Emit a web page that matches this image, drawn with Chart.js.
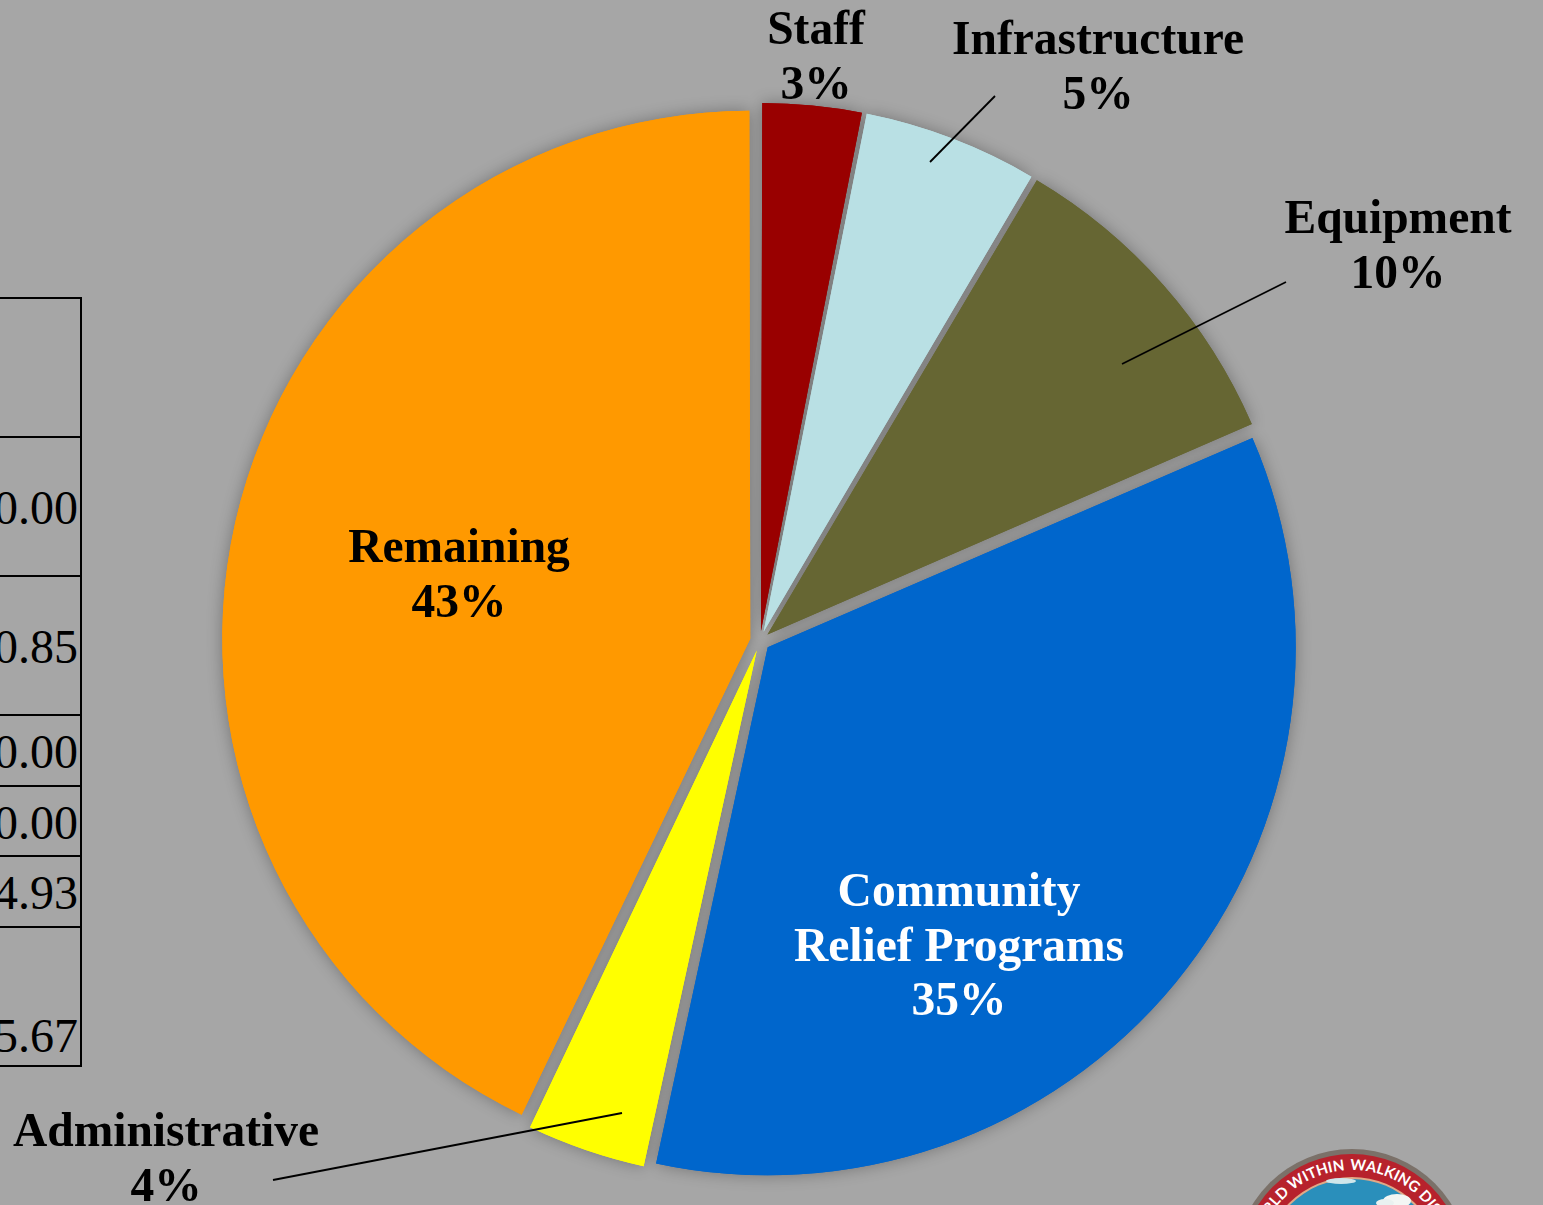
<!DOCTYPE html>
<html>
<head>
<meta charset="utf-8">
<title>Budget breakdown</title>
<script src="https://cdn.jsdelivr.net/npm/chart.js@4"></script>
<style>
    html, body { margin: 0; padding: 0; background: #a6a6a6; }
    #page { position: relative; width: 1543px; height: 1205px; overflow: hidden; background: #a6a6a6; }
    #budgetChart { position: absolute; left: 0; top: 0; }
    #amounts { position: absolute; left: -10px; top: 297px; width: 92px; border-collapse: collapse;
        font: 48px "Liberation Serif", serif; color: #000; table-layout: fixed; }
    #amounts td { border: 2px solid #000; border-left: 0; padding: 0 2px 0 0; text-align: right; line-height: 48px; white-space: nowrap; }
    #seal { position: absolute; left: 1220px; top: 1130px; }
</style>
</head>
<body>
<div id="page">
    <table id="amounts"></table>
    <svg id="seal" width="264" height="75" viewBox="1220 1130 264 75">
        <defs>
            <path id="sealArc" d="M 1256 1266 A 96 96 0 0 1 1448 1266"></path>
        </defs>
        <circle cx="1352" cy="1266" r="117" fill="#7b7169"></circle>
        <circle cx="1352" cy="1266" r="112" fill="#b7222c"></circle>
        <circle cx="1352" cy="1266" r="89" fill="#e0a987"></circle>
        <circle cx="1352" cy="1266" r="87" fill="#2a8fbb"></circle>
        <ellipse cx="1341" cy="1181" rx="15" ry="3" fill="#cfe6ea"></ellipse>
        <ellipse cx="1397" cy="1201" rx="14" ry="7" fill="#f3f6f4"></ellipse>
        <ellipse cx="1385" cy="1203" rx="9" ry="4" fill="#e9f1f0"></ellipse>
        <text font-family="Lato, sans-serif" font-weight="700" font-size="15" fill="#fff">
            <textPath href="#sealArc" startOffset="47.6%" text-anchor="end">A WORLD WITHIN</textPath>
        </text>
        <text font-family="Lato, sans-serif" font-weight="700" font-size="15" fill="#fff">
            <textPath href="#sealArc" startOffset="49.4%">WALKING DISTANCE</textPath>
        </text>
    </svg>
    <canvas id="budgetChart" width="1543" height="1205"></canvas>
</div>
<script>
const categories = ['Staff', 'Infrastructure', 'Equipment', 'Community Relief Programs', 'Administrative', 'Remaining']
const shares = [3.1, 5.4, 10.0, 34.9, 3.7, 42.9]
const sliceColors = ['#990000', '#b9e0e4', '#666633', '#0066cc', '#ffff00', '#ff9900']

// what is left of the table column at the page edge
const amountCells = ['', '0.00', '0.85', '0.00', '0.00', '4.93', '5.67']
const amountRowHeights = [139, 139, 139, 71, 70, 71, 139]

const sliceRadius = 528
const sliceOffset = 40 // the arc element moves by a quarter of this

// text blocks and leader lines, in page pixels
const labelBoxes = [
    { lines: ['Staff'], x: 816, y: 44, color: '#000' },
    { lines: ['Infrastructure'], x: 1098, y: 54, color: '#000', leader: [995, 96, 930, 162] },
    { lines: ['Equipment'], x: 1398, y: 233, color: '#000', leader: [1286, 282, 1122, 364] },
    { lines: ['Community', 'Relief Programs'], x: 959, y: 906, color: '#fff' },
    { lines: ['Administrative'], x: 166, y: 1146, color: '#000', leader: [273, 1180, 622, 1113] },
    { lines: ['Remaining'], x: 459, y: 562, color: '#000' }
]

function buildTable() {
    const table = document.getElementById('amounts')
    amountCells.forEach((text, i) => {
        const row = table.insertRow()
        row.style.height = amountRowHeights[i] + 'px'
        const cell = row.insertCell()
        cell.textContent = text
        if (i === amountCells.length - 1) {
            cell.style.verticalAlign = 'bottom'
            cell.style.paddingBottom = '5px'
        } else {
            cell.style.verticalAlign = 'middle'
            cell.style.paddingTop = '3px'
        }
    })
}

// the arc element grows narrow slices by offset * fix, take that back so all share one radius
const evenRadius = {
    id: 'evenRadius',
    afterDatasetsUpdate(chart) {
        chart.getDatasetMeta(0).data.forEach(arc => {
            const fix = 1 - Math.sin(Math.min(Math.PI, arc.circumference))
            arc.outerRadius = sliceRadius - (sliceOffset / 4) * fix
        })
    }
}

const softShadow = {
    id: 'softShadow',
    beforeDatasetsDraw(chart) {
        const ctx = chart.ctx
        ctx.save()
        ctx.shadowColor = 'rgba(0, 0, 0, 0.3)'
        ctx.shadowBlur = 16
        chart.getDatasetMeta(0).data.forEach(arc => arc.draw(ctx))
        ctx.restore()
    }
}

const sliceLabels = {
    id: 'sliceLabels',
    afterDatasetsDraw(chart) {
        const ctx = chart.ctx
        ctx.save()
        ctx.textAlign = 'center'
        ctx.textBaseline = 'alphabetic'
        ctx.font = 'bold 47.5px "Liberation Serif", serif'
        labelBoxes.forEach((box, i) => {
            if (box.leader) {
                ctx.strokeStyle = '#000'
                ctx.lineWidth = 1.8
                ctx.beginPath()
                ctx.moveTo(box.leader[0], box.leader[1])
                ctx.lineTo(box.leader[2], box.leader[3])
                ctx.stroke()
            }
            ctx.fillStyle = box.color
            const lines = box.lines.concat(`${Math.round(shares[i])}%`)
            lines.forEach((line, n) => ctx.fillText(line, box.x, box.y + n * 54.5))
        })
        ctx.restore()
    }
}

document.addEventListener('DOMContentLoaded', function() {
    buildTable()
    const ctx = document.getElementById('budgetChart').getContext('2d')
    new Chart(ctx, {
        type: 'pie',
        data: {
            labels: categories,
            datasets: [{
                data: shares,
                backgroundColor: sliceColors,
                borderWidth: 0,
                offset: sliceOffset,
                clip: false
            }]
        },
        options: {
            responsive: false,
            animation: false,
            radius: sliceRadius,
            layout: { padding: { top: 77, right: 23 } },
            plugins: {
                legend: { display: false },
                tooltip: { enabled: false }
            }
        },
        plugins: [evenRadius, softShadow, sliceLabels]
    })
})
</script>
</body>
</html>
